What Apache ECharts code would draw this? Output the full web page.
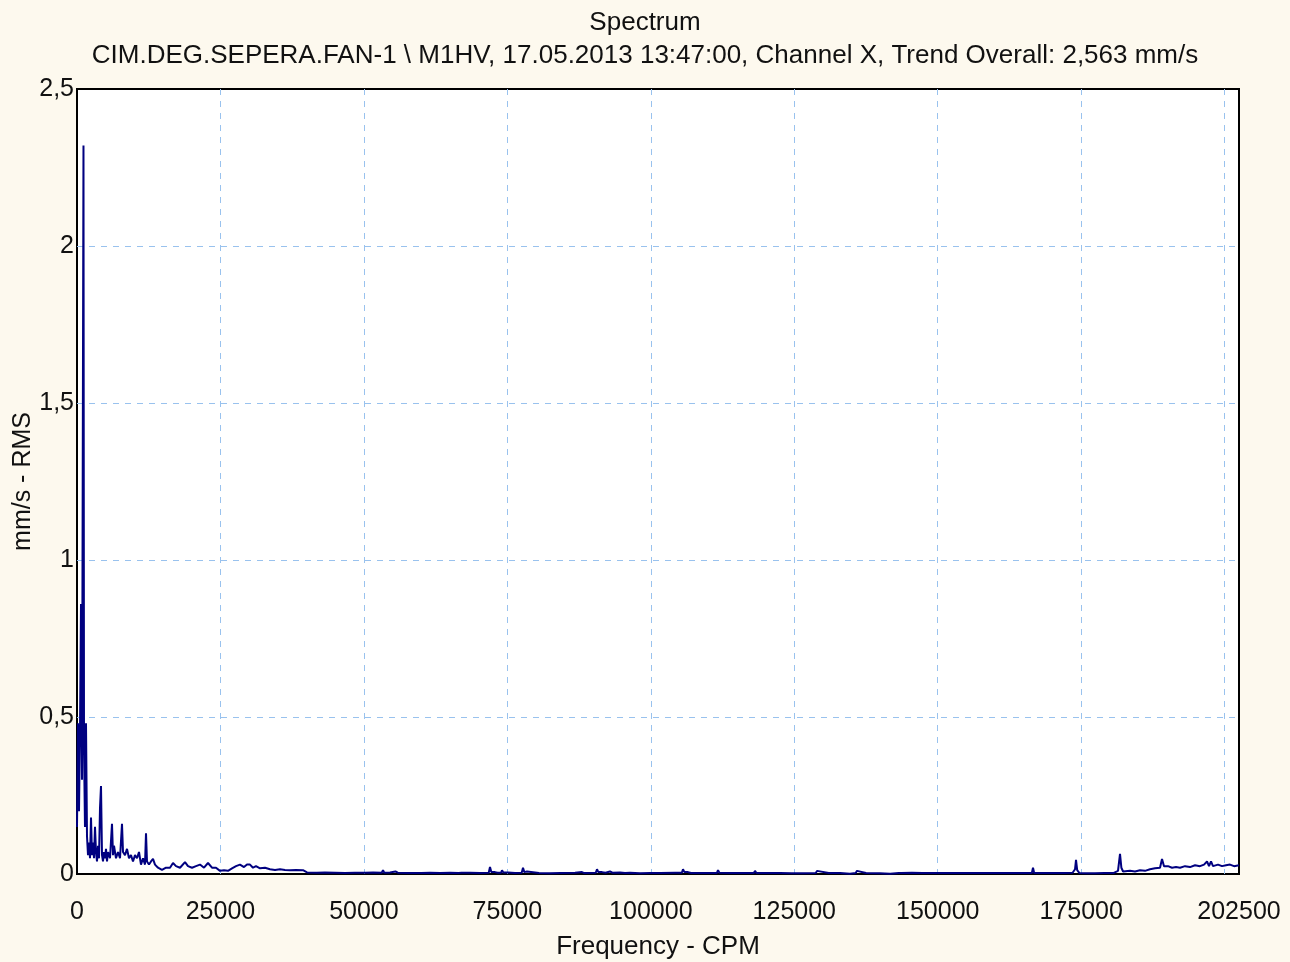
<!DOCTYPE html>
<html>
<head>
<meta charset="utf-8">
<style>
html,body{margin:0;padding:0;background:#fdf9ee;}
#chart{width:1290px;height:962px;}
</style>
<script src="https://cdn.jsdelivr.net/npm/echarts@6/dist/echarts.min.js"></script>
</head>
<body>
<div id="chart"></div>
<script>
var titleText = 'Spectrum';
var subtitleText = 'CIM.DEG.SEPERA.FAN-1 \\ M1HV, 17.05.2013 13:47:00, Channel X, Trend Overall: 2,563 mm/s';
var xAxisName = 'Frequency - CPM';
var yAxisName = 'mm/s - RMS';

var freqCPM = [
  0,174,349,523,697,871,1130,1220,1394,1568,
  1743,1917,2091,2266,2440,2614,2788,2963,3137,3311,
  3485,3660,3834,4008,4183,4357,4531,4705,4880,5054,
  5228,5402,5751,6099,6274,6448,6797,7145,7494,7842,
  8016,8365,8714,9062,9411,9759,10108,10456,10805,11153,
  11502,11850,12025,12199,12547,12896,13245,13593,14116,14813,
  15510,16207,16730,17253,17950,18821,19344,20041,20738,21435,
  22132,22829,23526,24224,24921,25618,26315,27012,27709,28406,
  29103,29626,30149,30672,31194,31891,32763,33634,34505,35377,
  36248,37120,38165,39385,40082,41800,43200,45000,46700,48400,
  50200,51600,53100,53327,53550,54547,55500,55900,57800,58032,
  58260,60000,61500,63300,65000,66500,66745,66990,68500,70200,
  71750,71973,72200,72845,73300,73600,73900,74065,74300,75110,
  76330,77500,77724,77950,78422,78700,80500,82400,84200,86800,
  88000,88400,90400,90620,90850,91492,92100,92886,93300,94629,
  95500,96371,98114,99857,101599,104213,105400,105607,105850,106479,
  107000,109000,111500,111707,111950,114000,116000,117950,118155,118400,
  120500,122500,124500,126500,128750,128960,129200,131000,133000,134700,
  135700,135930,136150,137500,139900,141700,143200,143424,143650,145500,
  147300,149500,151400,151615,151850,153500,155400,155624,155850,157500,
  159100,161000,163000,165000,166400,166602,166800,168500,170400,172000,
  173500,173922,174096,174300,174700,176000,177400,179000,180600,181415,
  181764,182000,182300,182635,183507,184378,185249,186121,186992,187864,
  188735,189084,189432,190129,190826,191523,192221,193092,193963,194835,
  195706,196403,196926,197274,197623,197971,198843,199540,200237,200934,
  201631,202500
];
var amplitude = [
  0.15,0.48,0.20,0.46,0.86,0.30,2.32,0.40,0.15,0.48,
  0.12,0.06,0.10,0.05,0.18,0.06,0.10,0.05,0.15,0.07,
  0.04,0.09,0.05,0.21,0.28,0.06,0.04,0.07,0.05,0.08,
  0.04,0.07,0.05,0.16,0.06,0.09,0.05,0.07,0.05,0.16,
  0.07,0.06,0.08,0.05,0.06,0.04,0.06,0.05,0.07,0.03,
  0.05,0.03,0.13,0.04,0.03,0.04,0.048,0.03,0.02,0.013,
  0.02,0.02,0.035,0.025,0.02,0.038,0.025,0.02,0.025,0.03,
  0.02,0.035,0.02,0.02,0.01,0.012,0.01,0.018,0.025,0.03,
  0.022,0.03,0.03,0.02,0.025,0.018,0.02,0.015,0.013,0.015,
  0.013,0.012,0.013,0.012,0.005,0.004,0.005,0.004,0.003,0.004,
  0.004,0.005,0.004,0.012,0.004,0.005,0.008,0.004,0.003,0.008,
  0.003,0.003,0.004,0.003,0.004,0.003,0.008,0.004,0.004,0.003,
  0.004,0.022,0.006,0.006,0.004,0.01,0.004,0.012,0.005,0.005,
  0.003,0.004,0.02,0.006,0.008,0.003,0.003,0.002,0.003,0.004,
  0.006,0.003,0.004,0.015,0.006,0.006,0.004,0.008,0.004,0.005,
  0.003,0.004,0.002,0.003,0.003,0.004,0.004,0.015,0.006,0.006,
  0.003,0.003,0.003,0.012,0.004,0.003,0.003,0.003,0.01,0.003,
  0.003,0.003,0.002,0.002,0.003,0.01,0.004,0.003,0.003,0.001,
  0.003,0.01,0.004,0.003,0.002,0.001,0.003,0.008,0.003,0.004,
  0.003,0.003,0.003,0.008,0.003,0.003,0.003,0.008,0.003,0.003,
  0.003,0.003,0.003,0.003,0.003,0.02,0.003,0.003,0.003,0.003,
  0.004,0.015,0.045,0.012,0.003,0.002,0.002,0.003,0.003,0.01,
  0.064,0.02,0.008,0.008,0.01,0.008,0.012,0.01,0.015,0.018,
  0.02,0.048,0.025,0.025,0.02,0.022,0.02,0.025,0.022,0.028,
  0.025,0.03,0.04,0.025,0.04,0.025,0.03,0.025,0.028,0.03,
  0.025,0.028
];
var yTicks = [0, 0.5, 1, 1.5, 2, 2.5];

var seriesData = freqCPM.map(function (f, i) { return [f, amplitude[i]]; });

var chart = echarts.init(document.getElementById('chart'), null, {renderer: 'canvas'});
var textColor = '#111111';
var fontFam = '"Liberation Sans", Arial, sans-serif';
var gridLine = {show: true, showMinLine: false, showMaxLine: false, lineStyle: {color: '#99c2ee', type: [6, 6], width: 1}};
chart.setOption({
  backgroundColor: '#fdf9ee',
  animation: false,
  title: [
    {text: titleText, left: 'center', top: 5, textStyle: {fontFamily: fontFam, fontSize: 26, fontWeight: 'normal', color: textColor}},
    {text: subtitleText, left: 'center', top: 38, textStyle: {fontFamily: fontFam, fontSize: 26, fontWeight: 'normal', color: textColor}}
  ],
  grid: {left: 77, right: 51, top: 89, bottom: 88, show: true, backgroundColor: '#ffffff', borderColor: '#000000', borderWidth: 2,
    containLabel: false, outerBoundsMode: 'none'},
  xAxis: {
    type: 'value', min: 0, max: 202500, interval: 25000,
    name: xAxisName, nameLocation: 'middle', nameGap: 60, nameMoveOverlap: false,
    nameTextStyle: {fontFamily: fontFam, fontSize: 26, color: textColor},
    axisLine: {show: false}, axisTick: {show: false},
    axisLabel: {margin: 26, fontFamily: fontFam, fontSize: 25, color: textColor, showMaxLabel: true,
      formatter: function (v) { return v === 200000 ? '' : String(v); }},
    splitLine: gridLine
  },
  yAxis: {
    type: 'value', min: yTicks[0], max: yTicks[yTicks.length - 1], interval: 0.5,
    name: yAxisName, nameLocation: 'middle', nameGap: 41, nameMoveOverlap: false,
    nameTextStyle: {fontFamily: fontFam, fontSize: 25, color: textColor},
    axisLine: {show: false}, axisTick: {show: false},
    axisLabel: {margin: 3, fontFamily: fontFam, fontSize: 25, color: textColor,
      formatter: function (v) { return String(v).replace('.', ','); }},
    splitLine: gridLine
  },
  series: [{
    type: 'line', data: seriesData, symbol: 'none', showSymbol: false,
    lineStyle: {color: '#000080', width: 2}, itemStyle: {color: '#000080'},
    z: 3
  }]
});
</script>
</body>
</html>
